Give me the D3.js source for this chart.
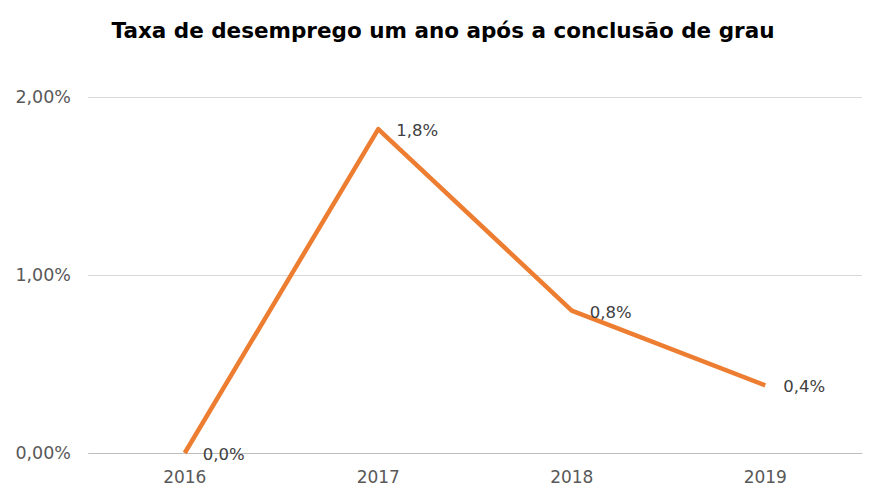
<!DOCTYPE html>
<html><head><meta charset="utf-8">
<script src="https://cdn.jsdelivr.net/npm/d3@7"></script>
<style>body{margin:0;background:#fff;} svg{display:block;}</style>
</head><body>
<svg id="chart" width="886" height="503"></svg>
<script>
const categories = ["2016", "2017", "2018", "2019"];
const values = [0.0, 0.0182, 0.0080, 0.0038];
const valueLabels = ["0,0%", "1,8%", "0,8%", "0,4%"];
const yTicks = [0, 0.01, 0.02];
const yTickLabels = ["0,00%", "1,00%", "2,00%"];
const title = "Taxa de desemprego um ano após a conclusão de grau";

(function () {
const svg = d3.select("#chart");
const font = "'DejaVu Sans', 'Noto Sans', sans-serif";
const mLeft = 88, mRight = 862, mTop = 97, mBottom = 453;

const x = d3.scaleBand().domain(categories).range([mLeft, mRight]);
const y = d3.scaleLinear().domain([0, 0.02]).range([mBottom, mTop]);

svg.append("text").attr("x", 443).attr("y", 38).attr("text-anchor", "middle")
  .attr("font-family", font).attr("font-weight", "bold").attr("font-size", 21.5)
  .attr("fill", "#000").text(title);

const yAxis = d3.axisLeft(y).tickValues(yTicks).tickSize(-(mRight - mLeft))
  .tickFormat((d, i) => yTickLabels[i]).tickPadding(17);
const gy = svg.append("g").attr("transform", `translate(${mLeft},0)`).call(yAxis);
gy.select(".domain").remove();
gy.selectAll(".tick line").attr("stroke", "#d9d9d9").attr("stroke-width", 1);
gy.selectAll(".tick text").attr("font-family", font).attr("font-size", 17.5).attr("fill", "#595959");

const xAxis = d3.axisBottom(x).tickSize(0).tickPadding(18);
const gx = svg.append("g").attr("transform", `translate(0,${mBottom})`).call(xAxis);
gx.select(".domain").attr("stroke", "#bfbfbf");
gx.selectAll(".tick text").attr("font-family", font).attr("font-size", 17).attr("fill", "#595959");

const line = d3.line().x((d, i) => x(categories[i]) + x.bandwidth() / 2).y(d => y(d));
svg.append("path").datum(values).attr("d", line).attr("fill", "none")
  .attr("stroke", "#ED7D31").attr("stroke-width", 4.5).attr("stroke-linejoin", "round");

svg.selectAll(".lbl").data(values).enter().append("text")
  .attr("x", (d, i) => x(categories[i]) + x.bandwidth() / 2 + 18)
  .attr("y", d => y(d) + 7)
  .attr("font-family", font).attr("font-size", 16.5).attr("fill", "#404040")
  .text((d, i) => valueLabels[i]);
})();
</script>
</body></html>
